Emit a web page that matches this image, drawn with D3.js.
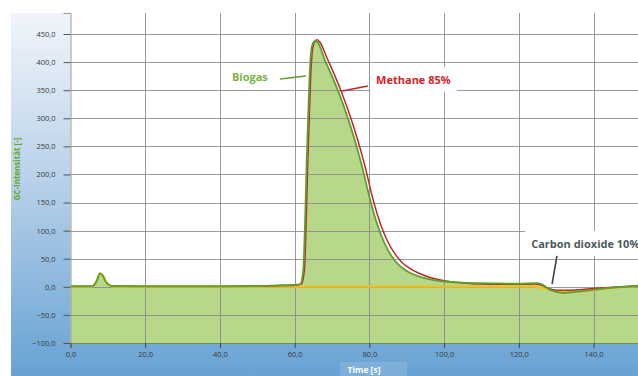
<!DOCTYPE html>
<html><head><meta charset="utf-8">
<script src="https://cdn.jsdelivr.net/npm/d3@7"></script>
<style>html,body{margin:0;padding:0;background:#fff;overflow:hidden}</style>
</head><body>
<svg id="c" width="638" height="376"></svg>
<script>
const xTicks = [0,20,40,60,80,100,120,140];
const yTicks = [-100,-50,0,50,100,150,200,250,300,350,400,450];

const biogasT = [0,5,6,7,7.9,8.6,9.5,10.5,11.5,20,30,40,50,55,60,61.5,62.3,62.8,63.2,63.6,64.1,64.7,65.6,66.3,68,70,72,74,76,78,80,82,84,86,88,90,93,96.5,100,105,110,115,120,124.8,126,128.3,130,131.9,135,141.7,146,152];
const biogasV = [1,1,1.5,10,24,20,8,2.5,1.5,1,1,1,1.5,2.5,3.5,5,30,120,220,300,390,430,438,434,405,375,342,305,263,215,160,113,78,54,38,28,19,13,9.5,7.5,6.5,6,5.5,6.5,5,-5,-9,-11,-9,-4,-1,2];

const methaneT = [45,55,60,61.8,62.6,63.1,63.5,63.9,64.4,65,66,66.8,68.8,70.8,72.8,74.8,76.8,78.8,80.8,82.8,84.8,86.8,88.8,90.8,93,96,100,105,110,115,120,124,126,128,130,133,140,146,152];
const methaneV = [1,2,3,5,30,120,220,300,390,430,440,435,405,375,342,305,263,215,160,115,82,59,43,33,25,17,11,7,5,4.5,4.5,5,3,-3,-6,-6,-3,-0.5,1.5];

const co2T = [0,5,6,7,7.9,8.7,9.6,10.8,12,30,60,90,120,124,126,128,130,132,134,136,141.7,146,152];
const co2V = [0.5,0.5,1.5,11,24,20,8,2,0.5,0.5,0.5,0.5,0.5,0.5,-2,-5,-7,-7.5,-8,-8,-4.5,-1.5,1.5];

const labels = [
  {text:"Biogas", x:48.0, v:373.5, anchor:"middle", color:"#79b443", lx1:56.1, lv1:369.9, lx2:63.0, lv2:375.3, lc:"#5fa030"},
  {text:"Methane 85%", x:81.8, v:368.1, anchor:"start", color:"#d1232a", lx1:79.6, lv1:357.4, lx2:72.7, lv2:348.6, lc:"#c0282d"},
  {text:"Carbon dioxide 10%", x:123.3, v:76.2, anchor:"start", color:"#4d5a5e", lx1:130.2, lv1:54.9, lx2:128.9, lv2:5.0, lc:"#3b474c"}
];

const W = 638, H = 376;
const svg = d3.select("#c");
const x = d3.scaleLinear().domain([0,152]).range([70.5, 638.4]);
const y = d3.scaleLinear().domain([-100, 487.4]).range([343, 13]);
const fmt = v => d3.format(".1f")(v).replace(".", ",");

// background gradient panel
const defs = svg.append("defs");
const g1 = defs.append("linearGradient").attr("id","bg").attr("x1",0).attr("y1",0).attr("x2",0).attr("y2",1);
g1.append("stop").attr("offset","0").attr("stop-color","#f1f5fa");
g1.append("stop").attr("offset","0.45").attr("stop-color","#bad2ea");
g1.append("stop").attr("offset","1").attr("stop-color","#67a2d3");
svg.append("rect").attr("x",11).attr("y",13).attr("width",W-11).attr("height",H-13).attr("fill","url(#bg)");

// plot area
svg.append("rect").attr("x",x(0)).attr("y",y(487.4)).attr("width",x(152)-x(0)).attr("height",y(-100)-y(487.4)).attr("fill","#fff");

const pts = (T,V) => T.map((t,i)=>[t,V[i]]);
const bio = pts(biogasT, biogasV), met = pts(methaneT, methaneV), co2 = pts(co2T, co2V);
const curve = d3.curveMonotoneX;

// fill
svg.append("path").datum(bio)
  .attr("d", d3.area().x(d=>x(d[0])).y0(y(-100)).y1(d=>y(d[1])).curve(curve))
  .attr("fill","#b7d88b");

// grid
const grid = svg.append("g").attr("stroke","#8a8a8a").attr("stroke-opacity",0.85).attr("stroke-width",1);
xTicks.filter(t=>t>0).forEach(t=>{
  grid.append("line").attr("x1",Math.round(x(t))+0.5).attr("x2",Math.round(x(t))+0.5).attr("y1",y(487.4)).attr("y2",y(-100));
});
yTicks.filter(t=>t>-100).forEach(t=>{
  grid.append("line").attr("y1",Math.round(y(t))+0.5).attr("y2",Math.round(y(t))+0.5).attr("x1",x(0)).attr("x2",W);
});

// lines
const line = d3.line().x(d=>x(d[0])).y(d=>y(d[1])).curve(curve);
svg.append("path").datum(co2).attr("d",line).attr("fill","none").attr("stroke","#efc01e").attr("stroke-width",2.2);
svg.append("path").datum(met).attr("d",line).attr("fill","none").attr("stroke","#c0282d").attr("stroke-width",1.5);
svg.append("path").datum(bio).attr("d",line).attr("fill","none").attr("stroke","#5da12c").attr("stroke-width",1.8);

// axes
const ax = svg.append("g").attr("transform",`translate(${x(0)},0)`)
  .call(d3.axisLeft(y).tickValues(yTicks).tickSize(7).tickPadding(8).tickFormat(fmt));
ax.select(".domain").attr("stroke","#9a9a9a");
ax.selectAll(".tick line").attr("stroke","#555");
ax.selectAll("text").attr("font-family","'Open Sans', sans-serif").attr("font-size","7.5px").attr("fill","#3a3a3a");

const bx = svg.append("g").attr("transform",`translate(0,${y(-100)})`)
  .call(d3.axisBottom(x).tickValues(xTicks).tickSize(5).tickPadding(4).tickFormat(fmt));
bx.select(".domain").attr("stroke","#6f8f5a");
bx.selectAll(".tick line").attr("stroke","#444");
bx.selectAll("text").attr("font-family","'Open Sans', sans-serif").attr("font-size","7.5px").attr("fill","#3a3a3a");

// axis titles
const tb = svg.append("g");
tb.append("rect").attr("x",340).attr("y",362).attr("width",67).attr("height",14).attr("fill","#ffffff").attr("fill-opacity",0.13);
tb.append("text").attr("x",364).attr("y",373).attr("text-anchor","middle")
  .attr("font-family","'Open Sans', sans-serif").attr("font-weight","bold").attr("font-size","8.5px").attr("fill","#fff").text("Time [s]");
svg.append("text").attr("transform","translate(20,169) rotate(-90)").attr("text-anchor","middle")
  .attr("font-family","'Open Sans', sans-serif").attr("font-weight","bold").attr("font-size","8px").attr("fill","#6aa82a").text("GC-Intensität [-]");

// annotations
labels.forEach(l=>{
  const g = svg.append("g");
  const r = g.append("rect").attr("fill","#fff");
  const t = g.append("text").attr("x",x(l.x)).attr("y",y(l.v)).attr("dy","0.35em").attr("text-anchor",l.anchor)
    .attr("font-family","'Open Sans', sans-serif").attr("font-weight","bold").attr("font-size","11px").attr("fill",l.color).text(l.text);
  const b = t.node().getBBox();
  r.attr("x",b.x-6).attr("y",b.y-5).attr("width",b.width+12).attr("height",b.height+10);
  svg.append("line").attr("x1",x(l.lx1)).attr("y1",y(l.lv1)).attr("x2",x(l.lx2)).attr("y2",y(l.lv2))
    .attr("stroke",l.lc).attr("stroke-width",1.6);
});
</script>
</body></html>
